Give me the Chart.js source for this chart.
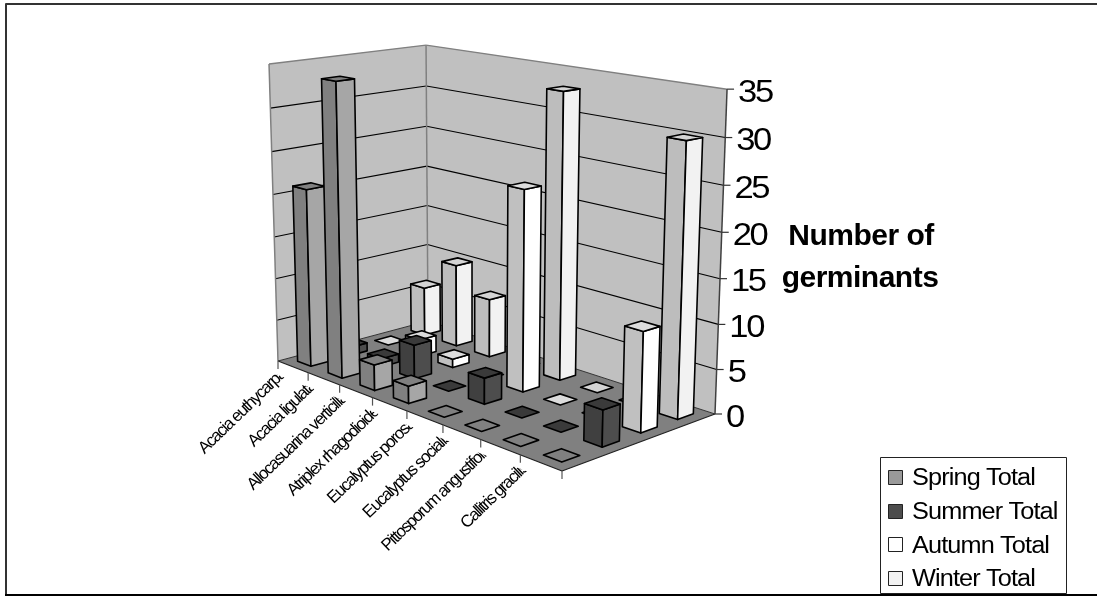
<!DOCTYPE html>
<html>
<head>
<meta charset="utf-8">
<title>Number of germinants by species and season</title>
<style>html,body{margin:0;padding:0;background:#fff}canvas{display:block}</style>
<script src="https://cdn.jsdelivr.net/npm/chart.js@4"></script>
</head>
<body>
<canvas id="chart" width="1097" height="597"></canvas>
<script>
// Germinant counts per species, one list per season.
const categories = ['Acacia euthycarpa', 'Acacia ligulata', 'Allocasuarina verticillata', 'Atriplex rhagodioides',
  'Eucalyptus porosa', 'Eucalyptus socialis', 'Pittosporum angustifolium', 'Callitris gracilis'];
const seriesNames = ['Spring Total', 'Summer Total', 'Autumn Total', 'Winter Total'];
const springTotal = [21, 34, 3, 2, 0, 0, 0, 0];
const summerTotal = [1, 1, 4, 0, 3, 0, 0, 4];
const autumnTotal = [0, 2, 1, 0, 23, 0, 0, 11];
const winterTotal = [6, 10, 7, 0, 33, 0, 0, 30];
const axisTitleLines = ['Number of', 'germinants'];

const FONT = '"Liberation Sans", Arial, sans-serif';

// Screen corners of the floor (front-left, front-right, back-right, back-left),
// plus the vanishing point of the verticals and the perspective strength of the height axis.
const floorQuad = [[278, 361], [562, 471], [715, 414], [428, 321]];
const verticalVanish = [475, 6880];
const heightLambda = -0.04357;

function homography(q) {
  const [[x0, y0], [x1, y1], [x2, y2], [x3, y3]] = q;
  const dx1 = x1 - x2, dx2 = x3 - x2, sx = x0 - x1 + x2 - x3;
  const dy1 = y1 - y2, dy2 = y3 - y2, sy = y0 - y1 + y2 - y3;
  const den = dx1 * dy2 - dx2 * dy1;
  const g = (sx * dy2 - dx2 * sy) / den, h = (dx1 * sy - sx * dy1) / den;
  const a = x1 - x0 + g * x1, b = x3 - x0 + h * x3;
  const d = y1 - y0 + g * y1, e = y3 - y0 + h * y3;
  return (u, s) => [a * u + b * s + x0, d * u + e * s + y0, g * u + h * s + 1];
}
const floorMap = homography(floorQuad);

// u: along the species axis, s: along the season axis, v: height; all 0..1.
function project(u, s, v) {
  const [X, Y, W] = floorMap(u, s);
  const k = v * heightLambda;
  const w = W + k;
  return [(X + k * verticalVanish[0]) / w, (Y + k * verticalVanish[1]) / w];
}

function poly(ctx, pts, fill, stroke, lw) {
  ctx.beginPath();
  pts.forEach((p, i) => i ? ctx.lineTo(p[0], p[1]) : ctx.moveTo(p[0], p[1]));
  ctx.closePath();
  if (fill) { ctx.fillStyle = fill; ctx.fill(); }
  if (stroke) { ctx.strokeStyle = stroke; ctx.lineWidth = lw; ctx.lineJoin = 'round'; ctx.stroke(); }
}

function line(ctx, a, b, color, lw) {
  ctx.beginPath();
  ctx.moveTo(a[0], a[1]);
  ctx.lineTo(b[0], b[1]);
  ctx.strokeStyle = color;
  ctx.lineWidth = lw;
  ctx.stroke();
}

// Horizontally widened text, as the axis and legend lettering is drawn.
function wideText(ctx, text, px, py, stretch) {
  ctx.save();
  ctx.translate(px, py);
  ctx.scale(stretch, 1);
  ctx.fillText(text, 0, 0);
  ctx.restore();
}

// Bar controller that renders each bar as a box standing on the floor.
// Positions come from the elements the stock controller lays out on the scales.
class Box3DController extends Chart.BarController {
  draw() {
    const { ctx, scales } = this.chart;
    const ds = this.getDataset();
    const x = scales.x, y = scales.y, depth = scales.depth;
    const s = depth.getDecimalForPixel(depth.getPixelForValue(this.index));
    const halfS = ds.barPercentage / 2 / depth.getLabels().length;
    this.getMeta().data.forEach(el => {
      const u = x.getDecimalForPixel(el.x);
      const v = y.getDecimalForPixel(el.y);
      const halfU = el.width / x.width / 2;
      const u0 = u - halfU, u1 = u + halfU, s0 = s - halfS, s1 = s + halfS;
      const lw = 1.6;
      if (v > 0) {
        poly(ctx, [project(u0, s0, 0), project(u1, s0, 0), project(u1, s0, v), project(u0, s0, v)], ds.frontColor, '#000', lw);
        poly(ctx, [project(u1, s0, 0), project(u1, s1, 0), project(u1, s1, v), project(u1, s0, v)], ds.sideColor, '#000', lw);
      }
      poly(ctx, [project(u0, s0, v), project(u1, s0, v), project(u1, s1, v), project(u0, s1, v)], ds.topColor, '#000', lw);
    });
  }
}
Box3DController.id = 'box3d';
Chart.register(Box3DController);

// Walls, floor, gridlines and axis lines, all placed from the scale ticks.
const roomPlugin = {
  id: 'room',
  beforeDatasetsDraw(chart) {
    const { ctx, scales: { x, y } } = chart;
    ctx.save();
    const wallEdge = '#808080';
    poly(ctx, [project(0, 0, 0), project(0, 1, 0), project(0, 1, 1), project(0, 0, 1)], '#c0c0c0');
    poly(ctx, [project(0, 1, 0), project(1, 1, 0), project(1, 1, 1), project(0, 1, 1)], '#c0c0c0');
    y.ticks.forEach(t => {
      if (t.value === y.min || t.value === y.max) return;
      const v = y.getDecimalForPixel(y.getPixelForValue(t.value));
      line(ctx, project(0, 0, v), project(0, 1, v), '#000', 1.1);
      line(ctx, project(0, 1, v), project(1, 1, v), '#000', 1.1);
    });
    line(ctx, project(0, 0, 0), project(0, 0, 1), wallEdge, 1.5);
    line(ctx, project(0, 0, 1), project(0, 1, 1), wallEdge, 1.5);
    line(ctx, project(0, 1, 1), project(1, 1, 1), wallEdge, 1.5);
    line(ctx, project(0, 1, 0), project(0, 1, 1), wallEdge, 1.5);
    line(ctx, project(1, 1, 0), project(1, 1, 1), '#404040', 1.5);
    poly(ctx, [project(0, 0, 0), project(1, 0, 0), project(1, 1, 0), project(0, 1, 0)], '#808080');
    line(ctx, project(0, 0, 0), project(1, 0, 0), '#222', 1.3);
    line(ctx, project(1, 0, 0), project(1, 1, 0), '#222', 1.3);
    line(ctx, project(0, 0, 0), project(0, 1, 0), '#333', 1);
    line(ctx, project(0, 1, 0), project(1, 1, 0), '#333', 1);
    ctx.restore();
  },
  afterDraw(chart) {
    const { ctx, scales: { x, y } } = chart;
    ctx.save();
    // Outer frame of the chart.
    ctx.strokeStyle = '#333';
    ctx.lineWidth = 2;
    ctx.beginPath();
    ctx.moveTo(6, 595);
    ctx.lineTo(6, 4);
    ctx.lineTo(1097, 4);
    ctx.stroke();
    ctx.strokeStyle = '#000';
    ctx.beginPath();
    ctx.moveTo(5, 595);
    ctx.lineTo(1097, 595);
    ctx.stroke();

    // Value axis ticks and labels on the right edge.
    ctx.fillStyle = '#000';
    ctx.textAlign = 'left';
    ctx.textBaseline = 'middle';
    ctx.font = '32px ' + FONT;
    ctx.letterSpacing = '-2.2px';
    y.ticks.forEach(t => {
      const v = y.getDecimalForPixel(y.getPixelForValue(t.value));
      const p = project(1, 1, v);
      line(ctx, p, [p[0] + 7, p[1]], '#333', 1.2);
      wideText(ctx, String(t.value), p[0] + 11, p[1] + 4, 1.08);
    });

    // Axis title next to the value axis.
    ctx.font = 'bold 30px ' + FONT;
    ctx.letterSpacing = '-0.5px';
    ctx.textAlign = 'center';
    ctx.fillText(axisTitleLines[0], 861, 237);
    ctx.fillText(axisTitleLines[1], 860, 279);

    // Species ticks and slanted, clipped species labels.
    const labels = x.getLabels();
    const n = labels.length;
    for (let i = 0; i <= n; i++) {
      const u = x.getDecimalForPixel(x.getPixelForValue(i - 0.5));
      const p = project(u, 0, 0);
      line(ctx, p, [p[0], p[1] + 8], '#555', 1.2);
    }
    ctx.save();
    const a = project(0, 0, 0), b = project(1, 0, 0);
    const slope = (b[1] - a[1]) / (b[0] - a[0]);
    ctx.beginPath();
    ctx.moveTo(a[0] - 150, a[1] + 14 - 150 * slope);
    ctx.lineTo(b[0] + 50, b[1] + 14 + 50 * slope);
    ctx.lineTo(b[0] + 50, 597);
    ctx.lineTo(0, 597);
    ctx.closePath();
    ctx.clip();
    ctx.font = '17px ' + FONT;
    ctx.letterSpacing = '-1.5px';
    ctx.textAlign = 'right';
    ctx.textBaseline = 'middle';
    ctx.fillStyle = '#000';
    const angle = -44 * Math.PI / 180;
    labels.forEach((label, i) => {
      const u = x.getDecimalForPixel(x.getPixelForValue(i - 0.5));
      const p = project(u, 0, 0);
      // Longer names run further past the clip edge.
      const overshoot = Math.max(3, 0.38 * ctx.measureText(label).width - 40);
      ctx.save();
      ctx.translate(p[0] + 3 + overshoot * Math.cos(angle), p[1] + 13 + overshoot * Math.sin(angle));
      ctx.rotate(angle);
      ctx.fillText(label, 0, 0);
      ctx.restore();
    });
    ctx.restore();

    // Legend box.
    ctx.fillStyle = '#fff';
    ctx.fillRect(880.5, 457.5, 186, 136);
    ctx.strokeStyle = '#222';
    ctx.lineWidth = 1;
    ctx.strokeRect(880.5, 457.5, 186, 136);
    ctx.font = '23px ' + FONT;
    ctx.letterSpacing = '-0.8px';
    ctx.textAlign = 'left';
    ctx.textBaseline = 'middle';
    chart.data.datasets.forEach((ds, i) => {
      const cy = 477 + i * 33.7;
      ctx.fillStyle = ds.backgroundColor;
      ctx.fillRect(888.5, Math.round(cy - 7) + 0.5, 14, 14);
      ctx.strokeStyle = '#222';
      ctx.strokeRect(888.5, Math.round(cy - 7) + 0.5, 14, 14);
      ctx.fillStyle = '#000';
      wideText(ctx, ds.label, 912, cy + 2, 1.1);
    });
    ctx.restore();
  }
};

const seasonValues = [springTotal, summerTotal, autumnTotal, winterTotal];
const seasonColors = [
  { backgroundColor: '#999999', frontColor: '#808080', sideColor: '#a6a6a6', topColor: '#808080' },
  { backgroundColor: '#4d4d4d', frontColor: '#404040', sideColor: '#4d4d4d', topColor: '#3a3a3a' },
  { backgroundColor: '#ffffff', frontColor: '#c0c0c0', sideColor: '#ffffff', topColor: '#dcdcdc' },
  { backgroundColor: '#f2f2f2', frontColor: '#bdbdbd', sideColor: '#f2f2f2', topColor: '#d4d4d4' }
];

new Chart(document.getElementById('chart'), {
  type: 'box3d',
  data: {
    labels: categories,
    datasets: seriesNames.map((name, i) => ({
      label: name,
      data: seasonValues[i],
      grouped: false,
      barPercentage: 0.44,
      categoryPercentage: 1,
      clip: false,
      ...seasonColors[i]
    }))
  },
  options: {
    responsive: false,
    animation: false,
    plugins: { legend: { display: false }, title: { display: false }, tooltip: { enabled: false } },
    scales: {
      x: { type: 'category', offset: true, display: false },
      y: { type: 'linear', min: 0, max: 35, ticks: { stepSize: 5 }, display: false },
      depth: { type: 'category', axis: 'x', position: 'bottom', labels: seriesNames, offset: true, display: false }
    }
  },
  plugins: [roomPlugin]
});
</script>
</body>
</html>
